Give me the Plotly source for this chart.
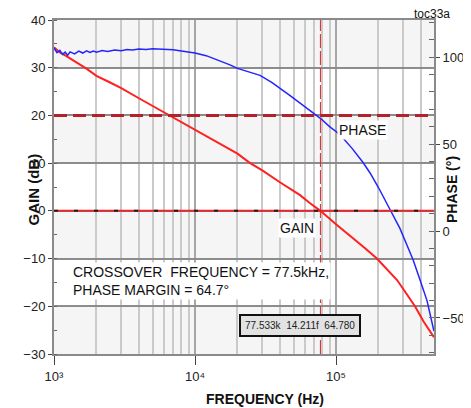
import plotly.graph_objects as go

gain_freq = [1000, 1100, 1200, 1300, 1500, 1700, 2000, 2500, 3000, 4000, 5000, 6600, 8000,
             10000, 13000, 17000, 20000, 24600, 30000, 40000, 50000, 55600, 65500, 77500,
             100000, 130000, 160000, 195000, 240000, 271000, 310000, 363000, 420000, 495000]
gain_db = [34.3, 33.2, 32.6, 32.0, 30.8, 29.8, 28.3, 26.9, 25.7, 23.6, 22.0, 20.0, 18.7,
           17.1, 15.2, 13.3, 12.0, 10.0, 8.5, 6.0, 4.2, 3.3, 1.6, 0.0,
           -2.8, -5.5, -7.8, -10.0, -12.8, -14.5, -17.0, -20.0, -23.3, -26.5]

phase_freq = [1000, 1050, 1100, 1150, 1200, 1250, 1300, 1400, 1500, 1600, 1700, 1800, 1900,
              2000, 2200, 2400, 2700, 3000, 3300, 3600, 4000, 4500, 5000, 5500, 6000, 7000,
              8000, 10000, 12000, 15000, 17700, 20000, 25000, 28900, 35000, 40000, 47000,
              55600, 65000, 77500, 90000, 106600, 130000, 155000, 174000, 200000, 241000,
              284000, 320000, 352000, 394000, 442000, 495000]
phase_deg = [105.2, 102.5, 103.8, 101.5, 102.8, 101.0, 103.0, 101.8, 103.4, 102.3, 103.6, 102.6, 103.5,
             102.8, 103.7, 103.2, 104.0, 103.6, 104.3, 104.0, 104.6, 104.4, 104.8, 104.6, 104.8, 104.2,
             103.5, 102.3, 100.8, 98.0, 95.5, 93.5, 91.0, 89.5, 85.5, 82.3, 78.0,
             73.5, 69.5, 64.8, 60.0, 55.5, 47.5, 39.5, 33.5, 25.0, 12.5,
             1.5, -8.5, -16.5, -28.0, -40.0, -57.5]

crossover_hz = 77533
x_ticks = [1e3, 1e4, 1e5]
x_ticktext = ["10³", "10⁴", "10⁵"]
x_minor = [2e3, 3e3, 4e3, 5e3, 6e3, 7e3, 8e3, 9e3,
           2e4, 3e4, 4e4, 5e4, 6e4, 7e4, 8e4, 9e4,
           2e5, 3e5, 4e5]
gain_ticks = [-30, -20, -10, 0, 10, 20, 30, 40]
phase_ticks = [-50, 0, 50, 100]

sans = "Liberation Sans, Arial"

fig = go.Figure()
fig.add_trace(go.Scatter(x=gain_freq, y=gain_db, mode="lines", name="GAIN",
                         line=dict(color="#ff2020", width=2)))
fig.add_trace(go.Scatter(x=phase_freq, y=phase_deg, mode="lines", name="PHASE", yaxis="y2",
                         line=dict(color="#2424ff", width=1.5)))

# alternating light bands between the 10 dB gridlines
for lo in [-30, -10, 10, 30]:
    fig.add_shape(type="rect", xref="paper", yref="y", x0=0, x1=1, y0=lo, y1=lo + 10,
                  fillcolor="#f5f5f5", line_width=0, layer="below")

# phase margin marker (20 dB line), 0 dB line, crossover line
fig.add_shape(type="line", xref="paper", yref="y", x0=0, x1=1, y0=20, y1=20,
              line=dict(color="#b3222b", width=3, dash="13px,6px"), layer="above")
fig.add_shape(type="line", xref="paper", yref="y", x0=0, x1=1, y0=0, y1=0,
              line=dict(color="#e8262e", width=2), layer="above")
fig.add_shape(type="line", xref="paper", yref="y", x0=0, x1=1, y0=0, y1=0,
              line=dict(color="#202020", width=2, dash="4px,16px"), layer="above")
fig.add_shape(type="line", xref="x", yref="paper", x0=crossover_hz, x1=crossover_hz, y0=0, y1=1,
              line=dict(color="#e02020", width=1, dash="14px,3px"), layer="above")

def px(x, y):
    # position given in picture pixels, relative to the plot frame (54..434, 20..354)
    return (x - 54) / 380, (354 - y) / 334

ann = dict(xref="paper", yref="paper", showarrow=False, yanchor="middle")
x, y = px(388, 130)
fig.add_annotation(x=x, y=y, text="PHASE", font=dict(family=sans, size=14, color="#111"),
                   bgcolor="white", **ann)
x, y = px(297, 228)
fig.add_annotation(x=x, y=y, text="GAIN", font=dict(family=sans, size=14, color="#111"),
                   bgcolor="white", **ann)
x, y = px(71, 281)
fig.add_annotation(x=x, y=y, xanchor="left", align="left",
                   text="CROSSOVER  FREQUENCY = 77.5kHz,<br>PHASE MARGIN = 64.7°",
                   font=dict(family=sans, size=14, color="#111"), bgcolor="white", **ann)
x, y = px(361, 325)
fig.add_annotation(x=x, y=y, text="77.533k  14.211f  64.780",
                   font=dict(family=sans, size=10, color="#222"),
                   bgcolor="#e2e2e2", bordercolor="#111", borderwidth=2, borderpad=4, **ann)
x, y = px(452, 14)
fig.add_annotation(x=x, y=y, xanchor="right", text="toc33a",
                   font=dict(family=sans, size=12, color="#111"), **ann)
x, y = px(265, 399)
fig.add_annotation(x=x, y=y, text="<b>FREQUENCY (Hz)</b>",
                   font=dict(family=sans, size=14, color="#111"), **ann)
x, y = px(22, 190)
fig.add_annotation(x=x, y=y, text="<b>GAIN (dB)</b>", textangle=-90,
                   font=dict(family=sans, size=15, color="#111"), **ann)
x, y = px(462, 190)
fig.add_annotation(x=x, y=y, text="<b>PHASE (°)</b>", textangle=-90,
                   font=dict(family=sans, size=14, color="#111"), **ann)

# page has an 8px body margin, so the frame sits at 46..426 / 12..346 inside the figure
fig.update_layout(
    width=471, height=408,
    margin=dict(l=46, r=45, t=12, b=62),
    paper_bgcolor="white", plot_bgcolor="white",
    showlegend=False,
    xaxis=dict(type="log", range=[3, 5.695], tickvals=x_ticks, ticktext=x_ticktext,
               ticks="outside", ticklen=9, tickcolor="#444", tickwidth=1,
               tickfont=dict(family=sans, size=13, color="#222"),
               showgrid=True, gridcolor="#a6a6a6", gridwidth=2,
               showline=True, linecolor="#8a8a8a", linewidth=2, mirror=True,
               minor=dict(tickvals=x_minor, showgrid=True, gridcolor="#cacaca", gridwidth=1.5, ticks=""),
               zeroline=False, automargin=False),
    yaxis=dict(range=[-30, 40], tickvals=gain_ticks, ticks="outside", ticklen=4, tickcolor="#444",
               tickfont=dict(family=sans, size=13, color="#222"),
               showgrid=True, gridcolor="#8c8c8c", gridwidth=2, zeroline=False,
               showline=True, linecolor="#8a8a8a", linewidth=2, automargin=False,
               minor=dict(dtick=5, ticks="inside", ticklen=3, tickcolor="#666", showgrid=False)),
    yaxis2=dict(range=[-70.7, 121.3], tickvals=phase_ticks, overlaying="y", side="right",
                ticks="outside", ticklen=4, tickcolor="#444",
                tickfont=dict(family=sans, size=13, color="#222"),
                showgrid=False, zeroline=False, automargin=False,
                showline=True, linecolor="#8a8a8a", linewidth=2,
                minor=dict(dtick=10, ticks="inside", ticklen=5, tickcolor="#666", showgrid=False)),
)

fig.write_html("out.html")
